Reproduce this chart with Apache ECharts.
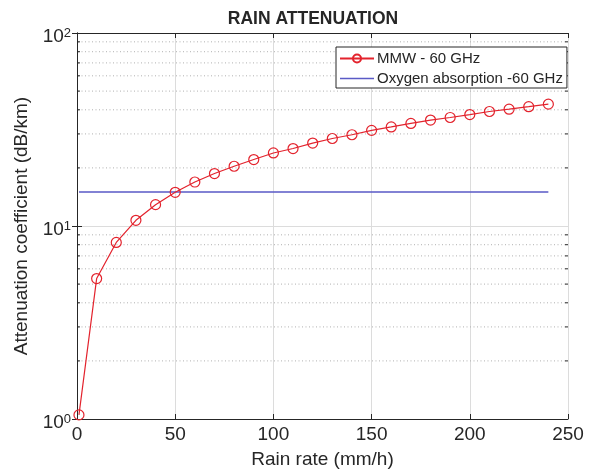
<!DOCTYPE html>
<html>
<head>
<meta charset="utf-8">
<script src="https://cdn.jsdelivr.net/npm/echarts@6/dist/echarts.min.js"></script>
<style>
  html, body { margin: 0; padding: 0; background: #ffffff; }
  #chart { width: 605px; height: 474px; }
</style>
</head>
<body>
<div id="chart"></div>
<script>
// Rain rate (mm/h) and the matching specific attenuation (dB/km)
const rainRate = [1, 10, 20, 30, 40, 50, 60, 70, 80, 90, 100, 110, 120,
                  130, 140, 150, 160, 170, 180, 190, 200, 210, 220, 230, 240];
const mmwAttenuation = [1.05, 5.34, 8.22, 10.7, 12.9, 14.95, 16.9, 18.7, 20.4, 22.1,
                        23.9, 25.2, 26.9, 28.4, 29.7, 31.3, 32.6, 34.0, 35.4, 36.5,
                        37.8, 39.2, 40.3, 41.5, 42.8];
const oxygenAttenuation = [15, 15, 15, 15, 15, 15, 15, 15, 15, 15, 15, 15, 15,
                           15, 15, 15, 15, 15, 15, 15, 15, 15, 15, 15, 15];

// Axis ranges and tick values
const xMin = 0, xMax = 250, xStep = 50;
const yMin = 1, yMax = 100;
const minorY = [2, 3, 4, 5, 6, 7, 8, 9, 20, 30, 40, 50, 60, 70, 80, 90];

const seriesNames = ['MMW - 60 GHz', 'Oxygen absorption -60 GHz'];
const titleText = 'RAIN ATTENUATION';
const xName = 'Rain rate (mm/h)';
const yName = 'Attenuation coefficient (dB/km)';

const FONT = '"Liberation Sans", Arial, Helvetica, sans-serif';
const INK = '#262626';
const GRID = '#dcdcdc';
const RED = '#e3232d';
const BLUE = '#5a5ac6';

const chart = echarts.init(document.getElementById('chart'), null, { renderer: 'canvas' });

const pair = (xs, ys) => xs.map((x, i) => [x, ys[i]]);

const logLabel = v => {
  const e = Math.round(Math.log10(v));
  return '{b|10}{s|' + e + '}';
};

chart.setOption({
  animation: false,
  backgroundColor: '#ffffff',
  title: {
    text: titleText,
    left: 313,
    top: 10,
    textAlign: 'center',
    padding: 0,
    textStyle: { fontFamily: FONT, fontSize: 17.5, fontWeight: 'bold', color: INK }
  },
  grid: { left: 77, right: 37, top: 33, bottom: 53, containLabel: false },
  legend: {
    orient: 'vertical',
    left: 336,
    top: 47,
    padding: [4, 4, 2, 3],
    itemGap: 5,
    itemWidth: 34,
    itemHeight: 10,
    borderColor: INK,
    borderWidth: 1,
    borderRadius: 0,
    backgroundColor: '#ffffff',
    data: [
      { name: seriesNames[0] },
      { name: seriesNames[1], icon: 'path://M0,0 L34,0 L34,1.5 L0,1.5 Z' }
    ],
    textStyle: { fontFamily: FONT, fontSize: 15, color: INK, padding: [0, 0, 0, -2] }
  },
  xAxis: [
    {
      type: 'value', min: xMin, max: xMax, interval: xStep,
      name: xName, nameLocation: 'middle', nameGap: 31,
      nameTextStyle: { fontFamily: FONT, fontSize: 19, color: INK },
      axisLine: { show: true, lineStyle: { color: INK, width: 1 } },
      axisTick: { show: true, inside: true, length: 5, lineStyle: { color: INK } },
      axisLabel: { fontFamily: FONT, fontSize: 19, color: INK, margin: 6 },
      splitLine: { show: true, lineStyle: { color: GRID, width: 1 } }
    },
    {
      type: 'value', position: 'top', min: xMin, max: xMax, interval: xStep,
      axisLine: { show: true, lineStyle: { color: INK, width: 1 } },
      axisTick: { show: true, inside: true, length: 5, lineStyle: { color: INK } },
      axisLabel: { show: false },
      splitLine: { show: false }
    }
  ],
  yAxis: [
    {
      type: 'log', logBase: 10, min: yMin, max: yMax,
      name: yName, nameLocation: 'middle', nameGap: 40,
      nameTextStyle: { fontFamily: FONT, fontSize: 19, color: INK },
      axisLine: { show: true, lineStyle: { color: INK, width: 1 } },
      axisTick: { show: true, inside: true, length: 5, lineStyle: { color: INK } },
      axisLabel: {
        margin: 6,
        padding: [8, 0, 0, 0],
        formatter: logLabel,
        rich: {
          b: { fontFamily: FONT, fontSize: 19, color: INK, lineHeight: 20 },
          s: { fontFamily: FONT, fontSize: 13, color: INK, lineHeight: 14, verticalAlign: 'top' }
        }
      },
      splitLine: { show: true, lineStyle: { color: GRID, width: 1 } }
    },
    {
      type: 'log', logBase: 10, min: yMin, max: yMax, position: 'right',
      axisLine: { show: true, lineStyle: { color: INK, width: 1 } },
      axisTick: { show: true, inside: true, length: 5, lineStyle: { color: INK } },
      axisLabel: { show: false },
      splitLine: { show: false }
    }
  ],
  series: [
    {
      // dotted minor grid lines with short inside ticks on both y edges
      type: 'custom',
      name: 'minor',
      silent: true,
      clip: false,
      z: 1,
      data: minorY.map(v => [xMin, v]),
      encode: { x: 0, y: 1 },
      renderItem: (params, api) => {
        const v = api.value(1);
        const p = api.coord([xMin, v]);
        const q = api.coord([xMax, v]);
        return {
          type: 'group',
          children: [
            { type: 'line', shape: { x1: p[0] + 1, y1: p[1], x2: q[0] - 1, y2: q[1] },
              style: { stroke: '#b0b0b0', lineWidth: 1, lineDash: [1, 2.5] } },
            { type: 'line', shape: { x1: p[0], y1: p[1], x2: p[0] + 3, y2: p[1] },
              style: { stroke: INK, lineWidth: 1 } },
            { type: 'line', shape: { x1: q[0] - 3, y1: q[1], x2: q[0], y2: q[1] },
              style: { stroke: INK, lineWidth: 1 } }
          ]
        };
      }
    },
    {
      name: seriesNames[0],
      type: 'line',
      z: 3,
      data: pair(rainRate, mmwAttenuation),
      symbol: 'circle',
      symbolSize: 10,
      showSymbol: true,
      lineStyle: { color: RED, width: 1.2 },
      itemStyle: { color: 'rgba(255,255,255,0)', borderColor: RED, borderWidth: 1.2 }
    },
    {
      name: seriesNames[1],
      type: 'line',
      z: 2,
      data: pair(rainRate, oxygenAttenuation),
      symbol: 'none',
      lineStyle: { color: BLUE, width: 1.5 },
      itemStyle: { color: BLUE }
    }
  ]
});
</script>
</body>
</html>
